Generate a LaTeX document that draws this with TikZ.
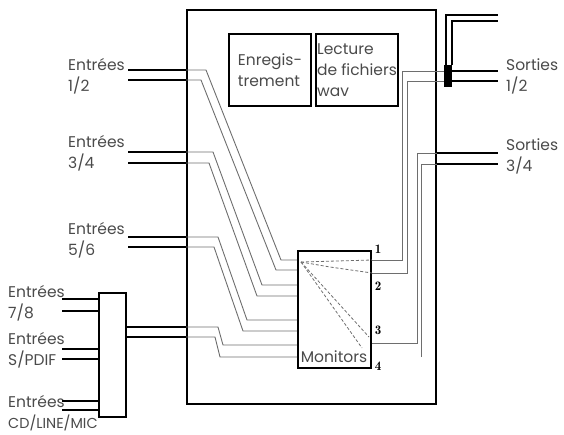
\documentclass[tikz,border=0pt]{standalone}
\usepackage{graphicx}
\usepackage{fontspec}
\setmainfont{Poppins}
\usetikzlibrary{positioning}
\definecolor{wiregray}{HTML}{6E6E6E}
\definecolor{txt}{HTML}{4A4A4A}

\begin{document}
\begin{tikzpicture}[x=1pt, y=-1pt,
  box/.style={draw, line width=2pt, inner sep=0pt},
  lbl/.style={font=\fontsize{15.5}{21}\selectfont, align=left, inner sep=0pt, anchor=west, text=txt},
  num/.style={font=\fontfamily{lmr}\selectfont\bfseries\fontsize{13}{13}\selectfont, inner sep=0pt},
  plug/.style={line width=2.6pt},
  wirestyle/.style={draw=wiregray, line width=0.9pt},
  monline/.style={draw=wiregray, dashed, dash pattern=on 3pt off 2pt, line width=0.8pt}]
\useasboundingbox (0,0) rectangle (564,434);
% boxes
\node[box, minimum width=249pt, minimum height=394pt] (main) at (311.5,207) {};
\node[box, lbl, anchor=center, minimum width=82pt, minimum height=72pt] (rec) at (270,70) {Enregis-\\trement};
\node[box, lbl, anchor=center, minimum width=82pt, minimum height=72pt] (lect) at (357,70) {Lecture\\de fichiers\\ wav};
\node[box, minimum width=73pt, minimum height=117pt] (mon) at (334.5,309.5) {};
\node[lbl, anchor=center] (monlbl) at (334,357) {Monitors};
\node[box, minimum width=27pt, minimum height=124pt] (mix) at (112.5,355) {};
\node[fill=black, minimum width=8pt, minimum height=22pt, inner sep=0pt] (jack) at (448,76) {};
% labels
\node[lbl] (e12) at (68,76) {Entrées\\1/2};
\node[lbl] (e34) at (68,153) {Entrées\\3/4};
\node[lbl] (e56) at (68,240) {Entrées\\5/6};
\node[lbl] (e78) at (8,303) {Entrées\\7/8};
\node[lbl] (espdif) at (8,350) {Entrées\\S/PDIF};
\node[lbl] (ecd) at (8,413) {Entrées\\\scalebox{0.93}{CD/LINE/MIC}};
\node[lbl] (s12) at (506,76) {Sorties\\1/2};
\node[lbl] (s34) at (506,156) {Sorties\\3/4};
\node[num] (n1) at (378,249) {1};
\node[num] (n2) at (378,286) {2};
\node[num] (n3) at (378,330) {3};
\node[num] (n4) at (378,366) {4};
% inputs
\foreach \y in {70,80,152,163,237,247}
  \draw[plug] (128,\y) -- (main.west |- 0,\y);
\foreach \y in {299,311,349,359,401,410}
  \draw[plug] (62,\y) -- (mix.west |- 0,\y);
\foreach \y in {327,337}
  \draw[plug] (mix.east |- 0,\y) -- (main.west |- 0,\y);
% routing to the monitors
\foreach \ya/\xa/\yb/\xb in {70/206/260/281, 80/201/270/276, 152/213/285/262, 163/209/296/257,
    237/218/320/247, 247/214/331/243, 327/218/345/223, 337/215/357/220}
  \draw[wirestyle] (main.west |- 0,\ya) -- (\xa,\ya) -- (\xb,\yb) -- (mon.west |- 0,\yb);
\coordinate (src) at (301,262);
\draw[monline] (src) -- (mon.east |- 0,260);
\draw[monline] (src) -- (330,267) -- (mon.east |- 0,273);
\draw[monline] (src) -- (369,337);
\draw[monline] (src) -- (362,348);
% outputs
\draw[wirestyle] (mon.east |- 0,260) -- (402,260) -- (402,71) -- (jack.west |- 0,71);
\draw[wirestyle] (mon.east |- 0,273) -- (407,273) -- (407,81) -- (jack.west |- 0,81);
\draw[wirestyle] (mon.east |- 0,343) -- (417,343) -- (417,153) -- (main.east |- 0,153);
\coordinate (out4) at (421,357);
\draw[wirestyle] (out4) -- (421,164) -- (main.east |- 0,164);
\foreach \y in {71,81}
  \draw[plug] (jack.center |- 0,\y) -- (498,\y);
\foreach \y in {153,164}
  \draw[plug] (main.east |- 0,\y) -- (498,\y);
\draw[line width=1.6pt] (jack.north -| 446,0) -- (446,15) -- (498,15);
\draw[line width=1.6pt] (jack.north -| 452,0) -- (452,21) -- (498,21);
\end{tikzpicture}
\end{document}
